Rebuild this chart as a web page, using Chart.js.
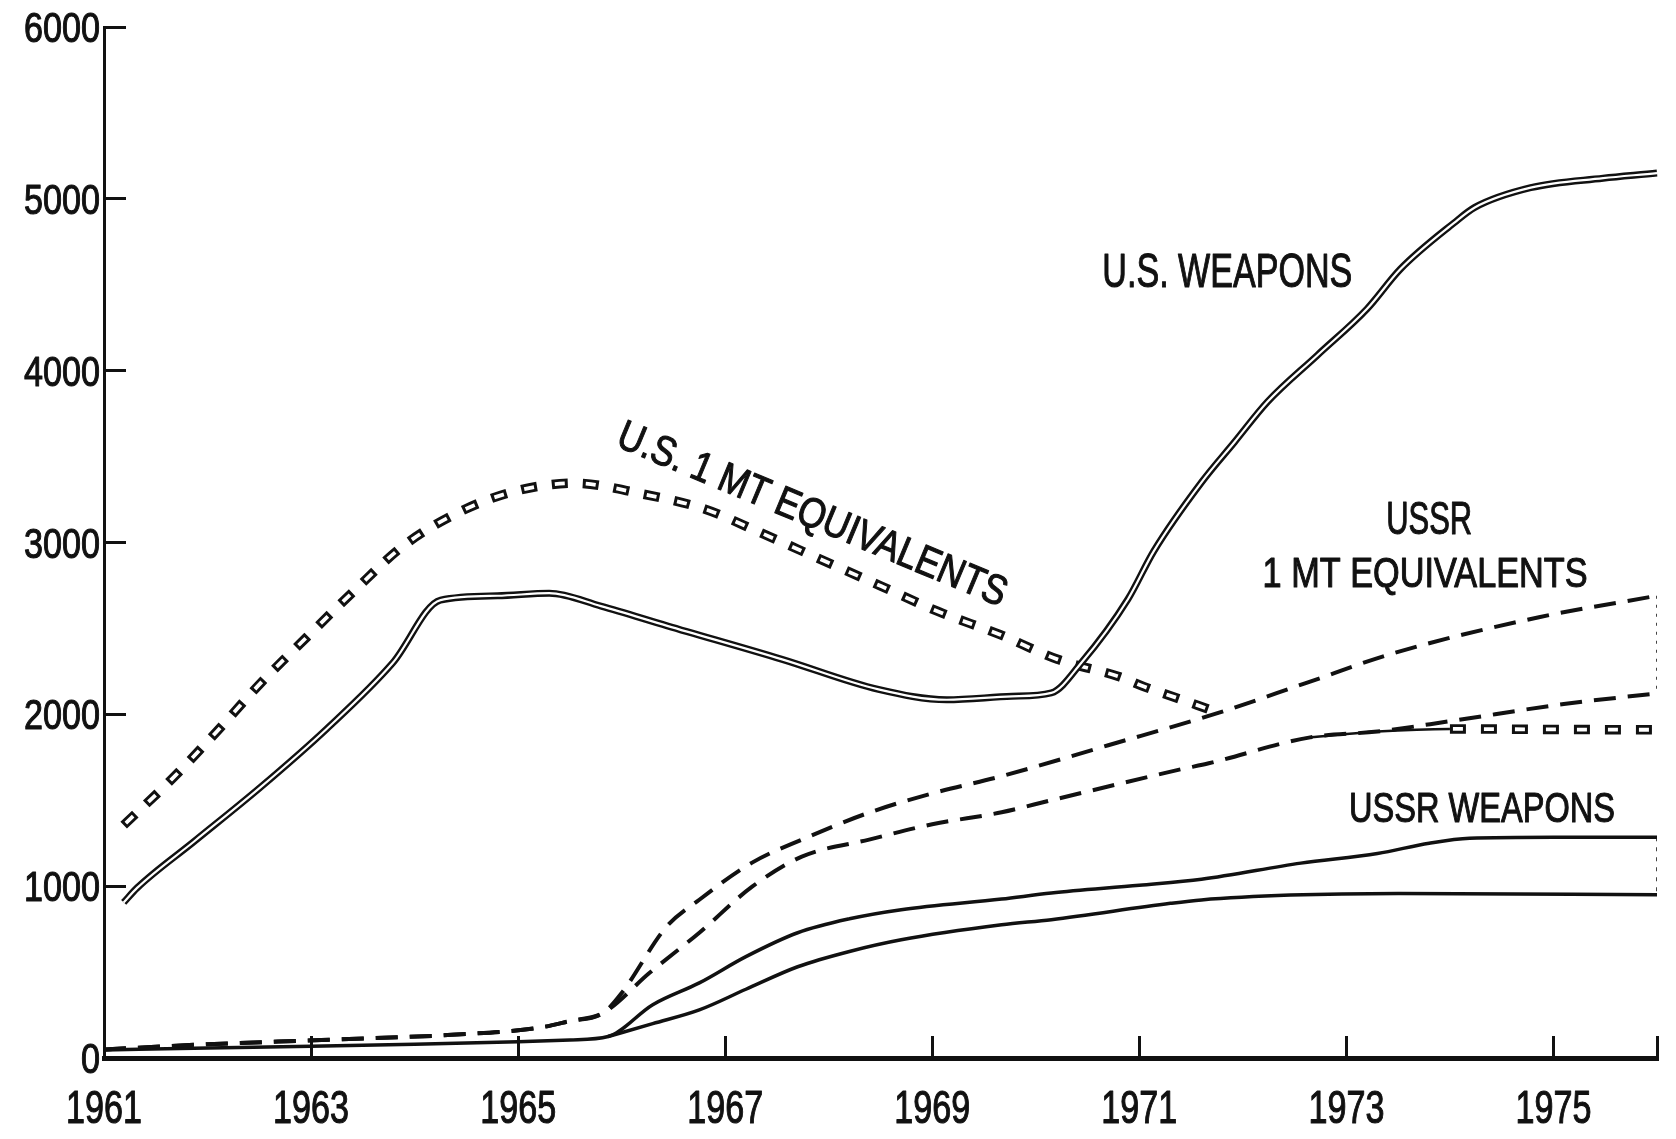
<!DOCTYPE html>
<html>
<head>
<meta charset="utf-8">
<script src="https://cdn.jsdelivr.net/npm/chart.js@4/dist/chart.umd.min.js"></script>
<style>
  html, body { margin: 0; padding: 0; background: #fff; }
  canvas { display: block; }
</style>
</head>
<body>
<canvas id="c" width="1676" height="1139"></canvas>
<script>
// ---------------- DATA ----------------
const xTickYears  = [1961, 1963, 1965, 1967, 1969, 1971, 1973, 1975, 1976];
const xTickLabels = ['1961', '1963', '1965', '1967', '1969', '1971', '1973', '1975', ''];
const yTickValues = [0, 1000, 2000, 3000, 4000, 5000, 6000];
const yTickLabels = ['0', '1000', '2000', '3000', '4000', '5000', '6000'];

const usWeaponsYears = [1961.19, 1961.32, 1961.87, 1962.51, 1963.15, 1963.79, 1964.25, 1964.8, 1965.3, 1965.8, 1966.44, 1967.55, 1968.48, 1969.14, 1969.77, 1970.15, 1970.44, 1970.89, 1971.14, 1971.6, 1971.92, 1972.24, 1972.72, 1973.2, 1973.52, 1974.04, 1974.24, 1974.78, 1975.48, 1976.0, 1976.15];
const usWeapons      = [905, 990, 1260, 1575, 1915, 2300, 2665, 2690, 2705, 2630, 2515, 2320, 2145, 2085, 2105, 2125, 2300, 2670, 2950, 3350, 3585, 3820, 4090, 4360, 4590, 4860, 4950, 5065, 5120, 5150, 5160];

const usMtYears = [1961.19, 1961.65, 1962.09, 1962.51, 1962.96, 1963.41, 1963.89, 1964.44, 1964.98, 1965.55, 1966.18, 1966.8, 1967.33, 1967.91, 1968.51, 1969.05, 1969.65, 1970.21, 1970.8, 1971.05, 1971.34, 1971.67, 1972.2, 1972.65, 1973.3, 1974.0, 1975.0, 1976.0];
const usMt      = [1355, 1620, 1900, 2180, 2450, 2715, 2980, 3180, 3300, 3345, 3285, 3195, 3060, 2905, 2745, 2600, 2465, 2320, 2220, 2160, 2100, 2030, null, 1866, 1900, 1915, 1912, 1910];

const ussrMtHighYears = [1961.0, 1962.0, 1963.1, 1964.36, 1965.19, 1965.5, 1965.82, 1966.0, 1966.43, 1966.75, 1967.26, 1967.74, 1968.39, 1969.0, 1969.67, 1970.7, 1971.77, 1972.6, 1973.45, 1974.86, 1976.0];
const ussrMtHigh      = [50, 80, 105, 135, 175, 215, 262, 378, 762, 921, 1137, 1271, 1428, 1540, 1640, 1820, 2010, 2180, 2355, 2565, 2690];

const ussrMtLowYears = [1961.0, 1962.0, 1963.1, 1964.36, 1965.19, 1965.5, 1965.82, 1966.27, 1966.75, 1967.26, 1967.74, 1968.39, 1969.0, 1969.67, 1970.15, 1971.4, 1971.67, 1972.65, 1973.3, 1974.0, 1975.1, 1976.0];
const ussrMtLow      = [50, 80, 105, 135, 175, 215, 262, 496, 729, 997, 1172, 1271, 1360, 1430, 1500, 1680, 1715, 1866, 1900, 1960, 2060, 2122];

const ussrWeaponsHighYears = [1961.0, 1962.0, 1963.0, 1964.0, 1965.0, 1965.5, 1965.87, 1966.3, 1966.75, 1967.2, 1967.7, 1968.2, 1968.7, 1969.67, 1970.15, 1971.0, 1971.6, 1972.56, 1973.3, 1973.8, 1974.19, 1975.0, 1976.0];
const ussrWeaponsHigh      = [47, 58, 68, 80, 95, 105, 125, 310, 437, 590, 729, 810, 863, 925, 960, 1005, 1040, 1134, 1190, 1250, 1279, 1285, 1285];

const ussrWeaponsLowYears = [1965.87, 1966.3, 1966.75, 1967.2, 1967.7, 1968.2, 1968.7, 1969.67, 1970.15, 1971.3, 1971.6, 1972.46, 1973.5, 1976.0];
const ussrWeaponsLow      = [125, 200, 280, 400, 531, 620, 688, 775, 805, 900, 920, 948, 958, 950];

// ---------------- RENDERING ----------------
const FONT = "'Liberation Sans Narrow', 'Liberation Sans', Arial, sans-serif";
const WEIGHT = 'normal';
const TEXT_STROKE = 1.1;    // slight extra weight for the medium lettering
const CAP = 0.716;          // cap / digit height as a fraction of the font size
const INK = '#111';
const pts = (xs, ys) => xs.map((x, i) => ({ x: x, y: ys[i] }));
const last = a => a[a.length - 1];

// thin (merged) stretch of the U.S. 1 MT line before the boxes resume
const THIN_FROM = 1972.6, THIN_TO = 1974.05;
const isThin = c => c.p0.parsed.x >= THIN_FROM && c.p1.parsed.x <= THIN_TO;

const base = {
  pointRadius: 0, pointHoverRadius: 0, fill: false,
  cubicInterpolationMode: 'monotone', borderCapStyle: 'butt', borderJoinStyle: 'round',
  spanGaps: false
};

const datasets = [
  Object.assign({}, base, { label: 'U.S. WEAPONS', data: pts(usWeaponsYears, usWeapons), borderColor: '#fff', borderWidth: 2.2, order: 0, clip: false }),
  Object.assign({}, base, { label: 'U.S. WEAPONS', data: pts(usWeaponsYears, usWeapons), borderColor: INK, borderWidth: 7, order: 1, clip: false }),
  Object.assign({}, base, { label: 'U.S. 1 MT EQUIVALENTS', data: pts(usMtYears, usMt), borderColor: '#fff', borderWidth: 3.8,
    borderDash: [10, 21], borderDashOffset: -3, order: 2,
    segment: { borderColor: c => isThin(c) ? 'rgba(255,255,255,0)' : undefined } }),
  Object.assign({}, base, { label: 'U.S. 1 MT EQUIVALENTS', data: pts(usMtYears, usMt), borderColor: INK, borderWidth: 9.5,
    borderDash: [16, 15], order: 3,
    segment: { borderWidth: c => isThin(c) ? 2.5 : undefined, borderDash: c => isThin(c) ? [] : undefined } }),
  Object.assign({}, base, { label: 'USSR 1 MT EQUIVALENTS (high)', data: pts(ussrMtHighYears, ussrMtHigh), borderColor: INK, borderWidth: 4, borderDash: [22, 12], order: 4 }),
  Object.assign({}, base, { label: 'USSR 1 MT EQUIVALENTS (low)', data: pts(ussrMtLowYears, ussrMtLow), borderColor: INK, borderWidth: 4, borderDash: [22, 12], order: 5 }),
  Object.assign({}, base, { label: 'USSR WEAPONS (high)', data: pts(ussrWeaponsHighYears, ussrWeaponsHigh), borderColor: INK, borderWidth: 3.5, order: 6 }),
  Object.assign({}, base, { label: 'USSR WEAPONS (low)', data: pts(ussrWeaponsLowYears, ussrWeaponsLow), borderColor: INK, borderWidth: 3.5, order: 7 }),
  Object.assign({}, base, { label: 'bracket MT', cubicInterpolationMode: 'default', tension: 0,
    data: [{ x: last(ussrMtHighYears), y: last(ussrMtHigh) }, { x: last(ussrMtLowYears), y: last(ussrMtLow) }],
    borderColor: '#444', borderWidth: 2, borderDash: [3, 6], order: 8 }),
  Object.assign({}, base, { label: 'bracket weapons', cubicInterpolationMode: 'default', tension: 0,
    data: [{ x: last(ussrWeaponsHighYears), y: last(ussrWeaponsHigh) }, { x: last(ussrWeaponsLowYears), y: last(ussrWeaponsLow) }],
    borderColor: '#444', borderWidth: 2, borderDash: [4, 6], order: 9 })
];

// Text labels placed in data coordinates
const annotations = [
  { text: 'U.S. WEAPONS',          x: 1971.85, y: 4586, cap: 35, width: 250, angle: 0 },
  { text: 'U.S. 1 MT EQUIVALENTS', x: 1967.85, y: 3175, cap: 30, width: 418, angle: 22.7 },
  { text: 'USSR',                  x: 1973.80, y: 3143, cap: 33, width: 86,  angle: 0 },
  { text: '1 MT EQUIVALENTS',      x: 1973.76, y: 2828, cap: 30, width: 325, angle: 0 },
  { text: 'USSR WEAPONS',          x: 1974.31, y: 1461, cap: 30, width: 266, angle: 0 }
];

function setFont(ctx, cap) { ctx.font = WEIGHT + ' ' + (cap / CAP) + 'px ' + FONT; }

// draw condensed text: cap height `cap`, horizontal squeeze `sx`
function condensedText(ctx, text, x, y, cap, sx, align, angle) {
  ctx.save();
  setFont(ctx, cap);
  ctx.translate(x, y);
  if (angle) ctx.rotate(angle * Math.PI / 180);
  ctx.scale(sx, 1);
  ctx.fillStyle = INK;
  ctx.strokeStyle = INK;
  ctx.lineWidth = TEXT_STROKE;
  ctx.lineJoin = 'round';
  ctx.textAlign = align;
  ctx.textBaseline = 'alphabetic';
  ctx.fillText(text, 0, cap / 2);
  ctx.strokeText(text, 0, cap / 2);
  ctx.restore();
}
function squeezeFor(ctx, sample, cap, width) {
  ctx.save();
  setFont(ctx, cap);
  const w = ctx.measureText(sample).width;
  ctx.restore();
  return width / w;
}

const textPlugin = {
  id: 'texts',
  afterDraw(chart) {
    const ctx = chart.ctx, xs = chart.scales.x, ys = chart.scales.y;
    const syY = squeezeFor(ctx, '0000', 30, 76);
    yTickValues.forEach((v, i) => {
      condensedText(ctx, yTickLabels[i], xs.left - 4, ys.getPixelForValue(v), 30, syY, 'right', 0);
    });
    const syX = squeezeFor(ctx, '0000', 33, 76);
    xTickYears.forEach((v, i) => {
      condensedText(ctx, xTickLabels[i], xs.getPixelForValue(v), ys.bottom + 48, 33, syX, 'center', 0);
    });
    annotations.forEach(a => {
      const sx = squeezeFor(ctx, a.text, a.cap, a.width);
      condensedText(ctx, a.text, xs.getPixelForValue(a.x), ys.getPixelForValue(a.y), a.cap, sx, 'center', a.angle);
    });
  }
};

new Chart(document.getElementById('c'), {
  type: 'line',
  data: { datasets: datasets },
  plugins: [textPlugin],
  options: {
    responsive: false, animation: false, devicePixelRatio: 1,
    layout: { padding: { top: 27, right: 19, left: 0, bottom: 0 } },
    plugins: { legend: { display: false }, tooltip: { enabled: false } },
    events: [],
    scales: {
      x: {
        type: 'linear', position: 'bottom', min: 1961, max: 1976,
        afterBuildTicks: s => { s.ticks = xTickYears.map(v => ({ value: v })); },
        afterFit: s => { s.height = 81; },
        grid: { drawOnChartArea: false, drawTicks: true, tickLength: -22, color: INK, lineWidth: 3 },
        border: { display: true, color: INK, width: 5 },
        ticks: { display: false }
      },
      y: {
        type: 'linear', position: 'left', min: 0, max: 6000,
        afterBuildTicks: s => { s.ticks = yTickValues.map(v => ({ value: v })); },
        afterFit: s => { s.width = 104; },
        grid: { drawOnChartArea: false, drawTicks: true, tickLength: -22, color: INK, lineWidth: 3 },
        border: { display: true, color: INK, width: 3 },
        ticks: { display: false }
      }
    }
  }
});
</script>
</body>
</html>
